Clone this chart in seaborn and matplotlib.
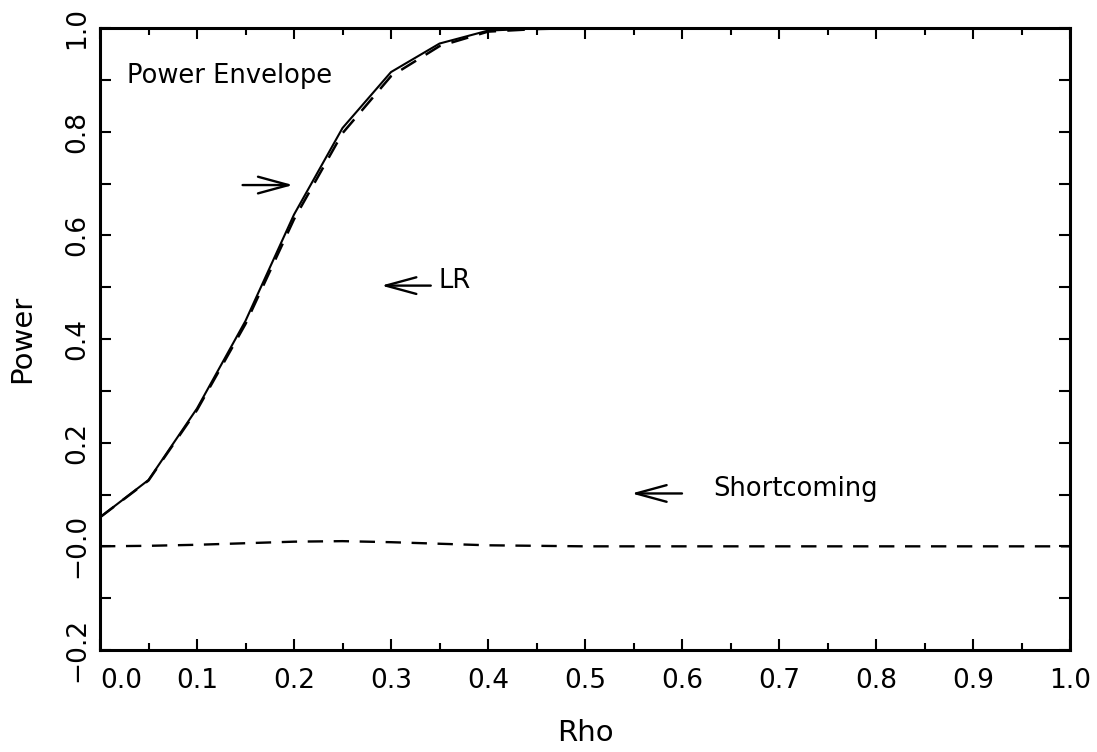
import matplotlib
matplotlib.use("Agg")
import matplotlib.pyplot as plt
import seaborn as sns
import pandas as pd
from matplotlib.ticker import FixedLocator

# ---- data ----
rho = [0.0, 0.05, 0.10, 0.15, 0.20, 0.25, 0.30, 0.35, 0.40, 0.45, 0.50,
       0.60, 0.70, 0.80, 0.90, 1.00]
envelope = [0.056, 0.128, 0.266, 0.435, 0.640, 0.807, 0.915, 0.970, 0.995, 0.999, 1.0,
            1.0, 1.0, 1.0, 1.0, 1.0]
lr_power = [0.056, 0.127, 0.263, 0.429, 0.631, 0.797, 0.907, 0.965, 0.993, 0.998, 1.0,
            1.0, 1.0, 1.0, 1.0, 1.0]
shortcoming = [0.0, 0.001, 0.003, 0.006, 0.009, 0.010, 0.008, 0.005, 0.002, 0.001, 0.0,
               0.0, 0.0, 0.0, 0.0, 0.0]

x_ticks = [0.0, 0.1, 0.2, 0.3, 0.4, 0.5, 0.6, 0.7, 0.8, 0.9, 1.0]
x_tick_labels = ["0.0", "0.1", "0.2", "0.3", "0.4", "0.5", "0.6", "0.7", "0.8", "0.9", "1.0"]
y_ticks = [-0.2, 0.0, 0.2, 0.4, 0.6, 0.8, 1.0]
y_tick_labels = ["\u22120.2", "\u22120.0", "0.2", "0.4", "0.6", "0.8", "1.0"]

df = pd.DataFrame({"rho": rho, "envelope": envelope, "lr": lr_power,
                   "short": shortcoming})

sns.set_style("ticks")
plt.rcParams["font.family"] = ["DejaVu Sans"]
plt.rcParams["text.color"] = "black"
plt.rcParams["axes.labelcolor"] = "black"
plt.rcParams["xtick.color"] = "black"
plt.rcParams["ytick.color"] = "black"
plt.rcParams["axes.edgecolor"] = "black"

fig = plt.figure(figsize=(10.97, 7.52), dpi=100)
ax = fig.add_axes([100 / 1097, 1 - 650 / 752, 970 / 1097, 622 / 752])

sns.lineplot(data=df, x="rho", y="envelope", ax=ax, color="black", lw=1.5)
sns.lineplot(data=df, x="rho", y="lr", ax=ax, color="black", lw=1.8)
sns.lineplot(data=df, x="rho", y="short", ax=ax, color="black", lw=1.7)
lines = ax.get_lines()
lines[1].set_dashes((7, 4.5))
lines[2].set_dashes((6.5, 4.5))

ax.set_xlim(0.0, 1.0)
ax.set_ylim(-0.2, 1.0)

# ticks
ax.xaxis.set_major_locator(FixedLocator(x_ticks))
ax.set_xticklabels(x_tick_labels)
ax.xaxis.set_minor_locator(FixedLocator([0.05 + 0.1 * i for i in range(10)]))
ax.yaxis.set_major_locator(FixedLocator(y_ticks))
ax.set_yticklabels(y_tick_labels)
ax.yaxis.set_minor_locator(FixedLocator([-0.1, 0.1, 0.3, 0.5, 0.7, 0.9]))

ax.tick_params(axis="both", which="both", direction="in", top=True, right=True,
               width=1.5, labelsize=19, colors="black")
ax.tick_params(axis="x", which="major", length=8, pad=13)
ax.tick_params(axis="x", which="minor", length=5)
ax.tick_params(axis="y", which="both", length=8, pad=7)

for lab in ax.get_yticklabels():
    lab.set_rotation(90)
    lab.set_va("center")
    lab.set_ha("right")
xl = ax.get_xticklabels()
xl[0].set_ha("left")

for s in ax.spines.values():
    s.set_linewidth(2.2)
    s.set_visible(True)
    s.set_color("black")

ax.set_xlabel("Rho", fontsize=21, labelpad=18)
ax.set_ylabel("Power", fontsize=21, labelpad=20)

# annotations
ax.text(0.028, 0.894, "Power Envelope", fontsize=18.5, ha="left", va="baseline")
ax.text(0.349, 0.499, "LR", fontsize=18.5, ha="left", va="baseline")
ax.text(0.632, 0.098, "Shortcoming", fontsize=18.5, ha="left", va="baseline")

arrow = dict(arrowstyle="->,head_length=1.1,head_width=0.3", lw=1.7,
             color="black", mutation_scale=20, shrinkA=0, shrinkB=0)
ax.annotate("", xy=(0.199, 0.697), xytext=(0.147, 0.697), arrowprops=arrow)
ax.annotate("", xy=(0.290, 0.503), xytext=(0.341, 0.503), arrowprops=arrow)
ax.annotate("", xy=(0.548, 0.102), xytext=(0.600, 0.102), arrowprops=arrow)

fig.savefig("out.png", dpi=100, facecolor="white")
